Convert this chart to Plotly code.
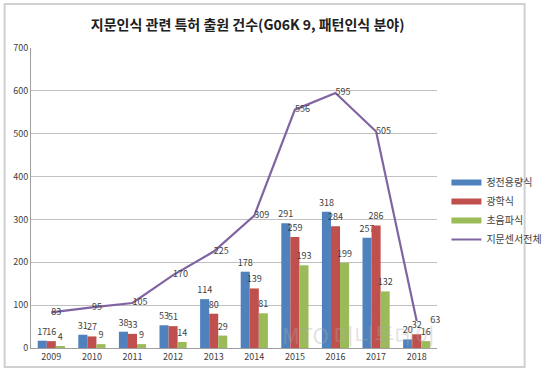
import plotly.graph_objects as go

years = ["2009", "2010", "2011", "2012", "2013", "2014", "2015", "2016", "2017", "2018"]
capacitive = [17, 31, 38, 53, 114, 178, 291, 318, 257, 20]
optical = [16, 27, 33, 51, 80, 139, 259, 284, 286, 32]
ultrasonic = [4, 9, 9, 14, 29, 81, 193, 199, 132, 16]
total = [83, 95, 105, 170, 225, 309, 556, 595, 505, 63]

series_names = ["정전용량식", "광학식", "초음파식", "지문센서전체"]
colors = ["#4F81BD", "#C0504D", "#9BBB59", "#8064A2"]

FONT = "Noto Sans CJK KR"
label_font = dict(family=FONT, size=9, color="#404040")

fig = go.Figure()
for name, vals, col in zip(series_names[:3], [capacitive, optical, ultrasonic], colors[:3]):
    fig.add_trace(go.Bar(
        x=years, y=vals, name=name, marker=dict(color=col, line=dict(width=0)),
        text=[str(v) for v in vals], textposition="outside", textfont=label_font,
        constraintext="none", cliponaxis=False, showlegend=False,
    ))

# line labels sit to the right of each point; the last one is nudged clear of the bar labels
line_text = [str(v) for v in total]
line_text[-1] = "\u2003\u2002" + line_text[-1]
fig.add_trace(go.Scatter(
    x=years, y=total, name=series_names[3], mode="lines+text",
    line=dict(color=colors[3], width=2.2),
    text=line_text, textposition="middle right", textfont=label_font,
    cliponaxis=False, showlegend=False,
))

# legend entries (wide swatches like the original)
for name, col, w in zip(series_names, colors, [6, 6, 6, 2]):
    fig.add_trace(go.Scatter(x=[None], y=[None], mode="lines", name=name,
                             line=dict(color=col, width=w)))

# outer frame (paper coords relative to plot area)
L, R, T, B = 31, 462, 48, 348
def px(x):
    return (x - L) / (R - L)
def py(y):
    return (B - y) / (B - T)

fig.add_shape(type="rect", xref="paper", yref="paper",
              x0=px(3), x1=px(555), y0=py(4), y1=py(367),
              line=dict(color="#d0d0d0", width=2), fillcolor="rgba(0,0,0,0)", layer="below")

fig.add_annotation(text="MTO 머니투데이", xref="paper", yref="paper",
                   x=px(462), y=py(352), showarrow=False,
                   font=dict(family=FONT, size=22, color="rgba(170,170,170,0.35)"))

fig.update_layout(
    width=559, height=374,
    margin=dict(l=L, r=559 - R, t=T, b=374 - B),
    paper_bgcolor="white", plot_bgcolor="white",
    title=dict(text="<b>지문인식 관련 특허 출원 건수(G06K 9, 패턴인식 분야)</b>",
               x=px(261), xref="paper", xanchor="center", y=1 - 25 / 374, yanchor="middle",
               font=dict(family=FONT, size=14, color="#202020")),
    barmode="group", bargap=0.33, bargroupgap=0,
    font=dict(family=FONT, size=9, color="#404040"),
    legend=dict(x=px(472), y=py(168), xanchor="left", yanchor="top",
                font=dict(family=FONT, size=10, color="#404040"),
                bgcolor="rgba(0,0,0,0)", tracegroupgap=0, itemwidth=30),
    showlegend=True,
)
fig.update_xaxes(showline=True, linecolor="#a0a0a0", linewidth=1, ticks="",
                 tickfont=dict(family=FONT, size=9, color="#404040"))
fig.update_yaxes(range=[0, 700], dtick=100, showgrid=True, gridcolor="#c0c0c0", gridwidth=1,
                 showline=True, linecolor="#a0a0a0", linewidth=1, zeroline=False,
                 tickfont=dict(family=FONT, size=9, color="#404040"))

fig.write_html("out.html", config={"displayModeBar": False})

# remove the browser's default body margin so the figure sits at the page origin
with open("out.html", "r", encoding="utf-8") as f:
    html = f.read()
html = html.replace("<body>", '<body style="margin:0;padding:0;">', 1)
with open("out.html", "w", encoding="utf-8") as f:
    f.write(html)
